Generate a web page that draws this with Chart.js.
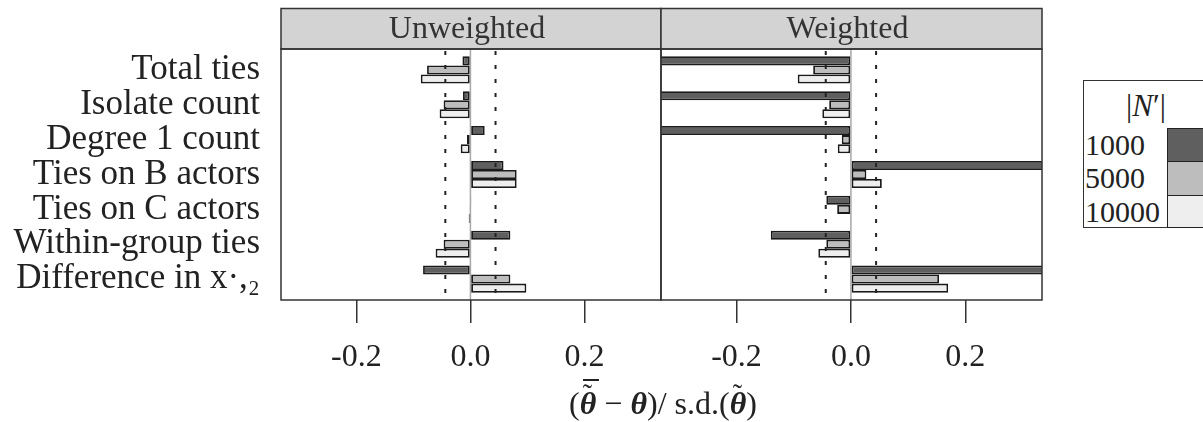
<!DOCTYPE html>
<html>
<head>
<meta charset="utf-8">
<script src="https://cdn.jsdelivr.net/npm/chart.js@4.4.1/dist/chart.umd.min.js"></script>
<style>
  body { margin: 0; width: 1203px; height: 422px; overflow: hidden; background: #fff; position: relative; font-family: 'Liberation Serif', serif; color: #222; }
  .box { position: absolute; top: 0; height: 422px; }
  #legend { position: absolute; left: 1083px; top: 80px; width: 130px; height: 148px; border: 1.5px solid #333; box-sizing: border-box; color: #222; }
  #legend .ttl { position: absolute; left: 0; width: 124px; top: 8px; text-align: center; font-size: 31px; line-height: 34px; color: #222; }
  #legend .row { position: absolute; left: 0; width: 140px; height: 34px; }
  #legend .lab { position: absolute; left: 1px; top: 0; font-size: 30px; line-height: 34px; }
  #legend .sw { position: absolute; left: 83px; top: 0; width: 60px; height: 100%; border: 1.5px solid #222; box-sizing: border-box; }
  #xtitle { position: absolute; left: 463px; width: 400px; top: 383px; text-align: center; font-size: 32px; line-height: 40px; color: #222; }
  .th { position: relative; display: inline-block; font-weight: bold; font-style: italic; }
  .th .tl { position: absolute; left: 3px; top: -9px; font-weight: normal; font-style: normal; font-size: 28px; }
  .th .br { position: absolute; left: 3px; width: 16px; height: 0; top: -4px; border-top: 2px solid #222; }
</style>
</head>
<body>
<div class="box" style="left:0;width:662px"><canvas id="unweighted"></canvas></div>
<div class="box" style="left:600px;width:450px"><canvas id="weighted"></canvas></div>
<div id="legend"><div class="ttl">|<i>N</i>′|</div></div>
<div id="xtitle">(<span class="th">θ<span class="tl">˜</span><span class="br"></span></span> − <span class="th">θ</span>)/ s.d.(<span class="th">θ<span class="tl">˜</span></span>)</div>
<script>
// data
const categories = ['Total ties', 'Isolate count', 'Degree 1 count', 'Ties on B actors',
    'Ties on C actors', 'Within-group ties', 'Difference in x·,₂'];
const sizeLabels = ['1000', '5000', '10000'];
const sizeColors = ['#5f5f5f', '#bdbdbd', '#eeeeee'];

const unweighted1000 = [-0.014, -0.013, 0.025, 0.058, 0.001, 0.070, -0.083];
const unweighted5000 = [-0.076, -0.047, -0.006, 0.081, -0.001, -0.047, 0.070];
const unweighted10000 = [-0.087, -0.054, -0.017, 0.081, -0.003, -0.061, 0.098];

// 1000 bars run off the panel in several rows (clipped)
const weighted1000 = [-0.45, -0.50, -0.48, 0.55, -0.043, -0.140, 0.60];
const weighted5000 = [-0.066, -0.038, -0.016, 0.027, -0.024, -0.043, 0.154];
const weighted10000 = [-0.093, -0.050, -0.023, 0.054, -0.001, -0.057, 0.170];

const xTicks = [-0.2, 0.0, 0.2];
const refLines = [-0.044, 0.044];
const xMin = -0.332, xMax = 0.334;

const serif = 'Liberation Serif';

// Panel strip, border and reference lines
const panelPlugin = {
    id: 'panel',
    beforeDatasetsDraw(chart) {
        const { ctx, chartArea: a, scales: { x } } = chart;
        ctx.save();
        ctx.strokeStyle = '#a8a8a8';
        ctx.lineWidth = 1.5;
        ctx.beginPath();
        ctx.moveTo(x.getPixelForValue(0), a.top);
        ctx.lineTo(x.getPixelForValue(0), a.bottom);
        ctx.stroke();
        ctx.restore();
    },
    afterDatasetsDraw(chart, args, opts) {
        const { ctx, chartArea: a, scales: { x } } = chart;
        ctx.save();
        // dotted lines
        ctx.strokeStyle = '#222';
        ctx.lineWidth = 2;
        ctx.setLineDash([4, 10]);
        refLines.forEach(v => {
            const px = x.getPixelForValue(v);
            ctx.beginPath();
            ctx.moveTo(px, a.top + 2);
            ctx.lineTo(px, a.bottom);
            ctx.stroke();
        });
        ctx.setLineDash([]);
        // strip
        const stripTop = 8.5;
        ctx.fillStyle = '#d3d3d3';
        ctx.fillRect(a.left, stripTop, a.right - a.left, a.top - stripTop);
        ctx.strokeStyle = '#333';
        ctx.lineWidth = 1.5;
        ctx.strokeRect(a.left, stripTop, a.right - a.left, a.top - stripTop);
        ctx.fillStyle = '#333';
        ctx.font = '32px "' + serif + '"';
        ctx.textAlign = 'center';
        ctx.textBaseline = 'middle';
        ctx.fillText(opts.title, (a.left + a.right) / 2 - 4, (stripTop + a.top) / 2 + 1);
        // panel border
        ctx.strokeRect(a.left, a.top, a.right - a.left, a.bottom - a.top);
        ctx.restore();
    }
};

function makeDatasets(series) {
    return series.map((vals, k) => ({
        label: sizeLabels[k],
        data: vals.map((v, i) => ({ x: v, y: i + 1 })),
        backgroundColor: sizeColors[k],
        borderColor: '#1a1a1a',
        borderWidth: 1.8,
        borderSkipped: false,
        categoryPercentage: 0.78,
        barPercentage: 1.0
    }));
}

function makeChart(id, title, series, showLabels, padding) {
    return new Chart(document.getElementById(id), {
        type: 'bar',
        data: { datasets: makeDatasets(series) },
        options: {
            indexAxis: 'y',
            responsive: true,
            maintainAspectRatio: false,
            animation: false,
            devicePixelRatio: 1,
            layout: { padding: padding },
            plugins: {
                legend: { display: false },
                tooltip: { enabled: false },
                panel: { title: title }
            },
            scales: {
                x: {
                    type: 'linear',
                    min: xMin,
                    max: xMax,
                    afterBuildTicks: s => { s.ticks = xTicks.map(v => ({ value: v })); },
                    afterFit: s => { s.height = 122; },
                    ticks: {
                        font: { family: serif, size: 32 },
                        color: '#222',
                        padding: 15,
                        maxRotation: 0,
                        autoSkip: false,
                        callback: v => v.toFixed(1)
                    },
                    grid: { drawOnChartArea: false, drawTicks: true, tickLength: 23, color: '#333', lineWidth: 1.5 },
                    border: { display: false }
                },
                y: {
                    type: 'linear',
                    reverse: true,
                    offset: false,
                    min: 0.4,
                    max: 7.6,
                    display: showLabels,
                    afterBuildTicks: s => { s.ticks = categories.map((c, i) => ({ value: i + 1 })); },
                    afterFit: s => { if (showLabels) s.width = 281; },
                    ticks: {
                        font: { family: serif, size: 35 },
                        color: '#222',
                        padding: 21,
                        autoSkip: false,
                        callback: v => categories[v - 1]
                    },
                    grid: { display: false, drawTicks: false, offset: false },
                    border: { display: false }
                }
            }
        },
        plugins: [panelPlugin]
    });
}

makeChart('unweighted', 'Unweighted', [unweighted1000, unweighted5000, unweighted10000], true,
    { top: 49, left: 0, right: 1, bottom: 0 });
makeChart('weighted', 'Weighted', [weighted1000, weighted5000, weighted10000], false,
    { top: 49, left: 61, right: 8, bottom: 0 });

// legend (lattice style key)
const legend = document.getElementById('legend');
const rowTops = [47, 79.5, 114];
const rowHeights = [34, 36, 33];
sizeLabels.forEach((lab, k) => {
    const row = document.createElement('div');
    row.className = 'row';
    row.style.top = rowTops[k] + 'px';
    row.style.height = rowHeights[k] + 'px';
    row.innerHTML = '<span class="lab">' + lab + '</span><span class="sw" style="background:' + sizeColors[k] + '"></span>';
    legend.appendChild(row);
});
</script>
</body>
</html>
